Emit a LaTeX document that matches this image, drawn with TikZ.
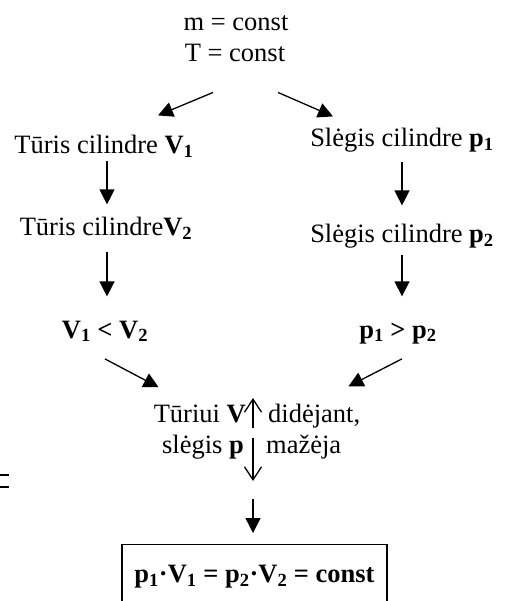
\documentclass[tikz,border=0pt]{standalone}
\usepackage{fontspec}
\setmainfont{Liberation Serif}
\usetikzlibrary{arrows.meta}

\begin{document}
\begin{tikzpicture}[x=1pt,y=-1pt,
  lbl/.style={anchor=base, inner sep=0pt, font=\fontsize{26.5}{33}\selectfont},
  arr/.style={line width=1.3pt, -{Triangle[length=15pt,width=15pt]}},
  barb/.style={line width=1.3pt, -{Straight Barb[length=13pt,width=17pt]}}]
\useasboundingbox (0,0) rectangle (522,601);
\node[lbl] (mc) at (236,31) {m = const};
\node[lbl] (tc) at (235,62) {T = const};
\node[lbl] (tv1) at (104,154) {Tūris cilindre \textbf{V\textsubscript{1}}};
\node[lbl] (sp1) at (402,147) {Slėgis cilindre \textbf{p\textsubscript{1}}};
\node[lbl] (tv2) at (106,236) {Tūris cilindre\textbf{V\textsubscript{2}}};
\node[lbl] (sp2) at (402,243) {Slėgis cilindre \textbf{p\textsubscript{2}}};
\node[lbl] (vv) at (105,338) {\textbf{V\textsubscript{1} < V\textsubscript{2}}};
\node[lbl] (pp) at (398,338) {\textbf{p\textsubscript{1} > p\textsubscript{2}}};
\node[lbl, anchor=base east] (v1) at (246,422) {Tūriui \textbf{V}};
\node[lbl, anchor=base west] (v2) at (268,422) {didėjant,};
\node[lbl, anchor=base east] (s1) at (244,453) {slėgis \textbf{p}};
\node[lbl, anchor=base west] (s2) at (266,453) {mažėja};
\node[draw, line width=1.3pt, anchor=north, minimum width=265pt,
  inner ysep=20pt, text height=18pt, text depth=40pt,
  font=\fontsize{26.5}{33}\selectfont\bfseries] (res) at (254.5,544)
  {p\textsubscript{1}·V\textsubscript{1} = p\textsubscript{2}·V\textsubscript{2} = const};
% up and down marks between the two lines
\coordinate (upb) at (253,428);
\coordinate (upt) at (253,398);
\coordinate (dnt) at (253,438);
\coordinate (dnb) at (253,481);
\draw[barb] (upb) -- (upt);
\draw[barb] (dnt) -- (dnb);
% arrows
\draw[arr] ([shift={(-22,30)}]tc.south) -- ([shift={(54,-20)}]tv1.north);
\draw[arr] ([shift={(43,30)}]tc.south) -- ([shift={(-69,-12)}]sp1.north);
\draw[arr, shorten <=3pt, shorten >=13pt] ([xshift=3pt]tv1.south) -- ([xshift=3pt]tv1.south |- tv2.north);
\draw[arr, shorten <=12pt, shorten >=24pt] ([xshift=1pt]tv2.south) -- ([xshift=1pt]tv2.south |- vv.north);
\draw[arr, shorten <=9pt, shorten >=19pt] (sp1.south) -- (sp1.south |- sp2.north);
\draw[arr, shorten <=6pt, shorten >=26pt] (sp2.south) -- (sp2.south |- pp.north);
\draw[arr] ([shift={(0,17)}]vv.south) -- ([shift={(5,-17)}]v1.north west);
\draw[arr] ([shift={(4,15)}]pp.south) -- ([shift={(-12,-17)}]v2.north east);
\draw[arr, shorten <=18pt, shorten >=11pt] (dnb) -- (dnb |- res.north);
% stray mark at the left edge
\draw[line width=1.3pt] (0,475) -- (9,475) (0,487) -- (9,487);
\end{tikzpicture}
\end{document}
